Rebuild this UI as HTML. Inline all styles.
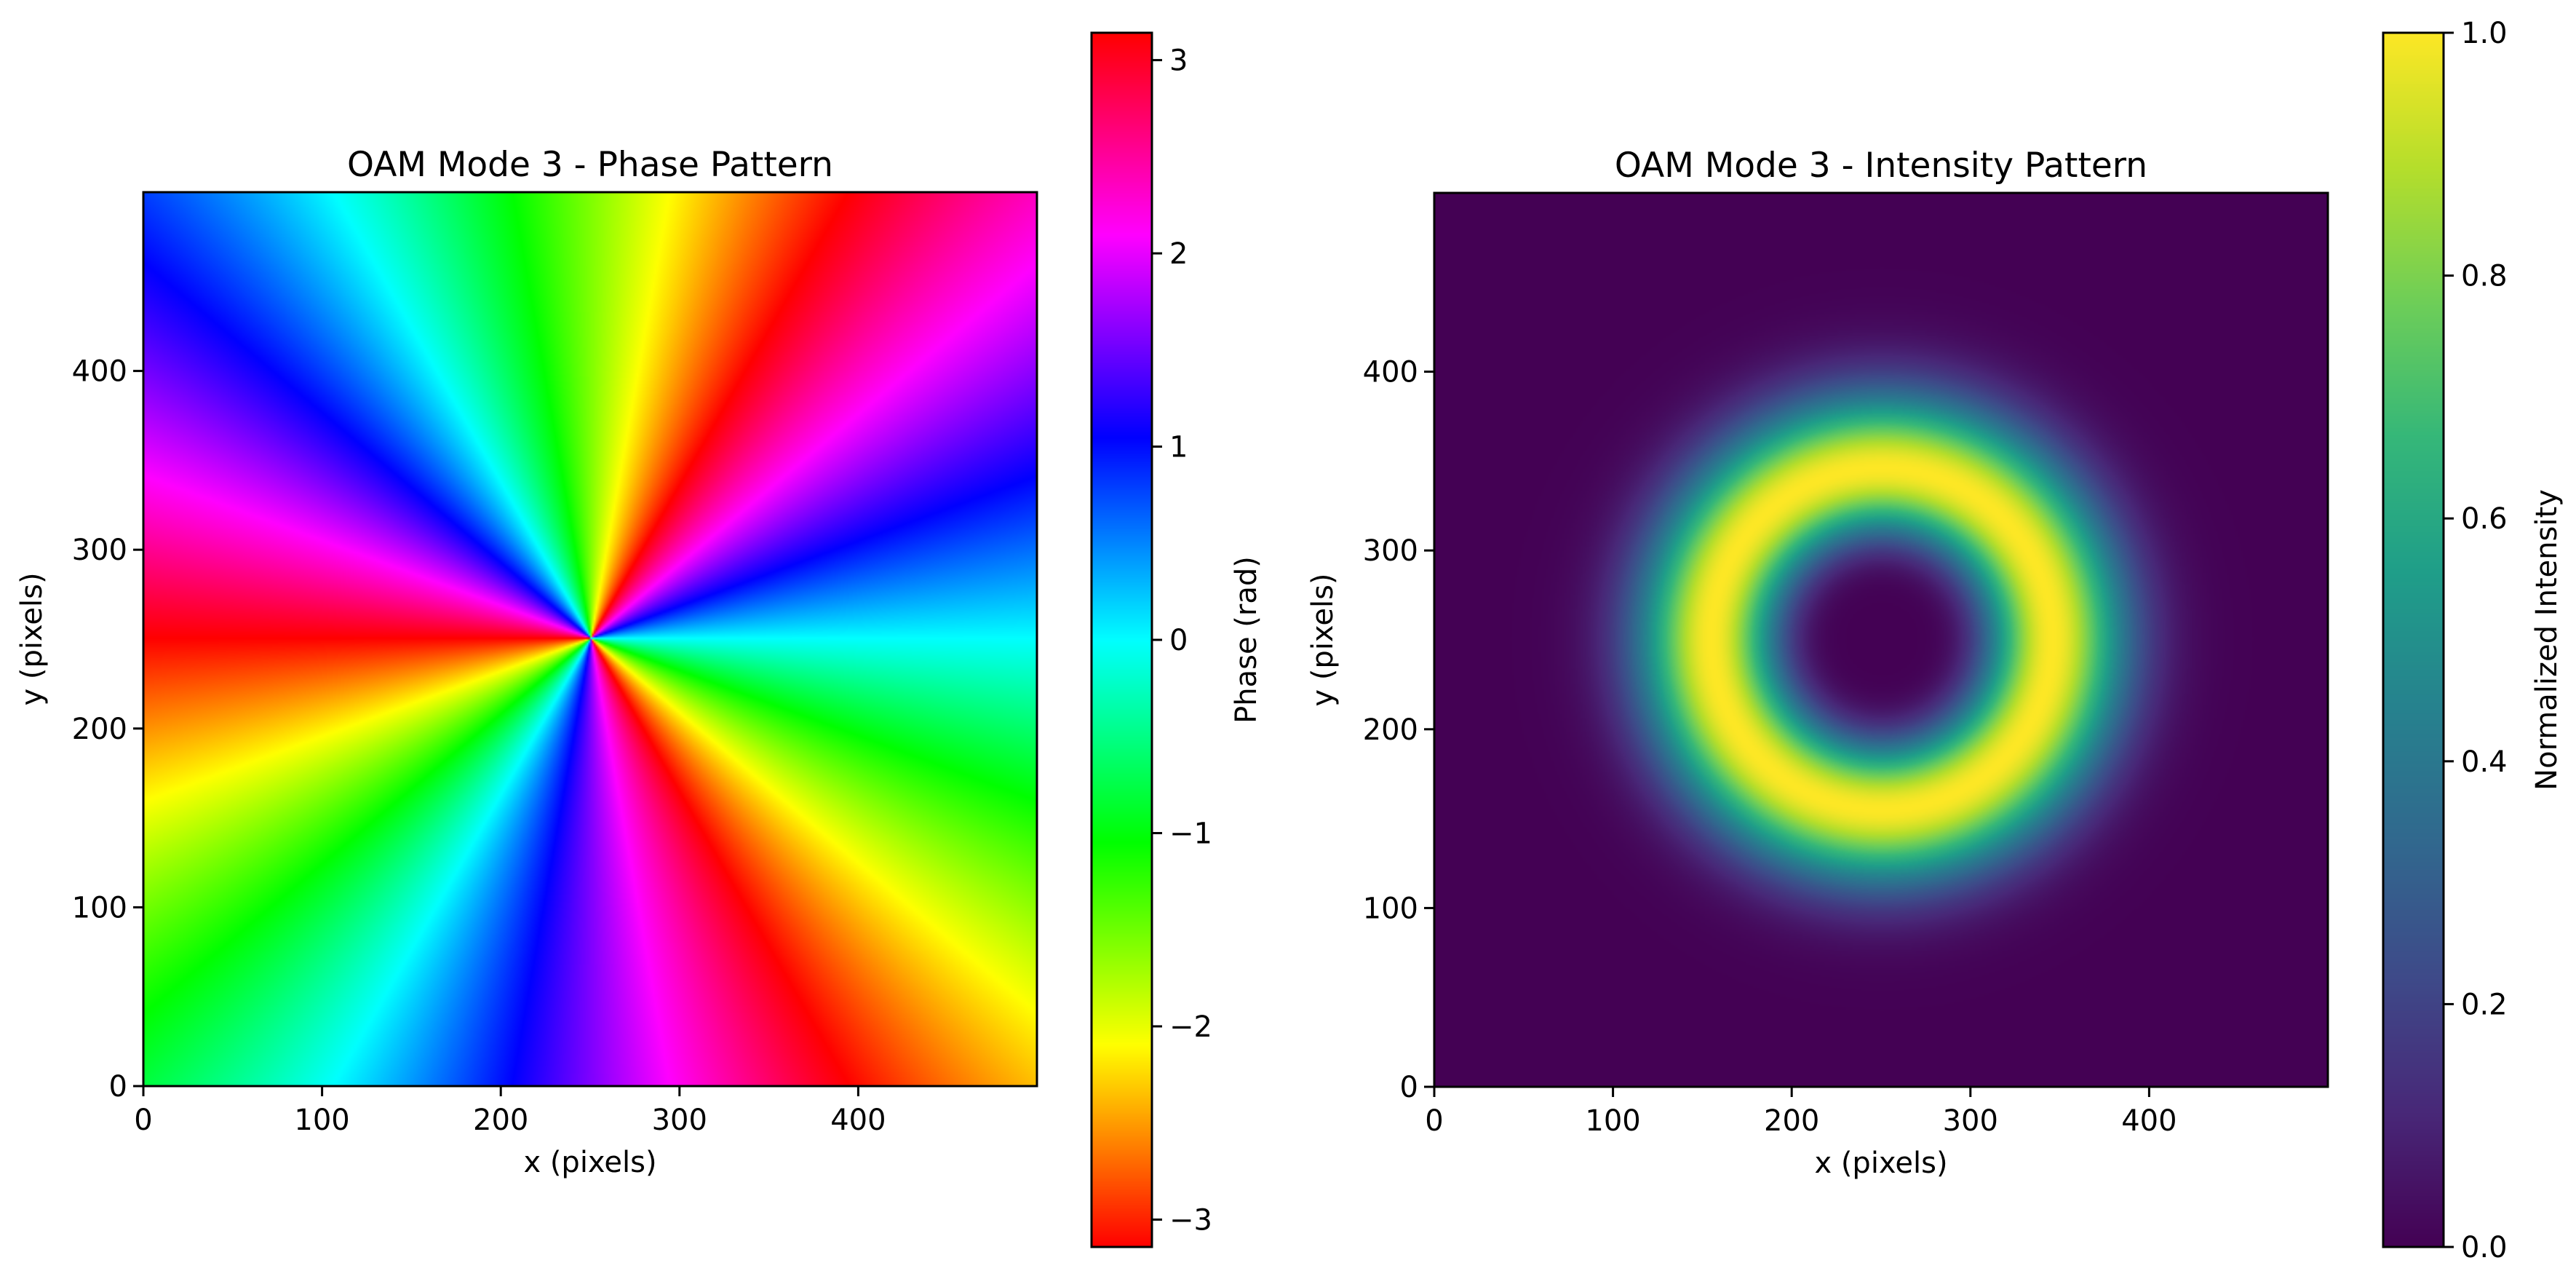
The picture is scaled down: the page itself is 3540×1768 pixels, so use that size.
<!DOCTYPE html>
<html><head><meta charset="utf-8"><style>
html,body{margin:0;padding:0;background:#fff;}
#wrap{position:relative;width:3540px;height:1768px;overflow:hidden;font-family:"DejaVu Sans","Liberation Sans",sans-serif;}
canvas{position:absolute;}
svg{position:absolute;left:0;top:0;font-family:"DejaVu Sans","Liberation Sans",sans-serif;}
</style></head><body>
<div id="wrap">
<canvas id="phaseImg" width="500" height="500" style="left:197px;top:264px;width:1228px;height:1228px"></canvas>
<canvas id="phaseCb" width="1" height="600" style="left:1500px;top:45px;width:83px;height:1668px"></canvas>
<canvas id="intImg" width="500" height="500" style="left:1971px;top:265px;width:1228px;height:1228px"></canvas>
<canvas id="intCb" width="1" height="600" style="left:3275px;top:45px;width:83px;height:1668px"></canvas>
<svg id="ov" width="3540" height="1768"></svg>
</div>
<script>
// data / parameters
const modeL = 3;
const gridSize = 500;
const beamWaist = 78;
const axisTicks = [0,100,200,300,400];
const phaseTicks = [-3,-2,-1,0,1,2,3];
const phaseTickLabels = ["\u22123","\u22122","\u22121","0","1","2","3"];
const intTicks = [0,0.2,0.4,0.6,0.8,1.0];
const intTickLabels = ["0.0","0.2","0.4","0.6","0.8","1.0"];

function hsv(t){
  const h=((t%1)+1)%1*6; const i=Math.floor(h), f=h-i;
  const q=1-f;
  const c=[[1,f,0],[q,1,0],[0,1,f],[0,q,1],[f,0,1],[1,0,q]][i%6];
  return c.map(v=>Math.round(v*255));
}
const vir=[[68,1,84],[72,40,120],[62,74,137],[49,104,142],[38,130,142],[31,158,137],[53,183,121],[110,206,88],[181,222,43],[253,231,37]];
function viridis(t){t=Math.max(0,Math.min(1,t));const p=t*9,i=Math.min(8,Math.floor(p)),f=p-i;
  return vir[i].map((v,k)=>Math.round(v+(vir[i+1][k]-v)*f));}

function drawImages(){
  const c1=document.getElementById('phaseImg').getContext('2d');
  const c2=document.getElementById('intImg').getContext('2d');
  const d1=c1.createImageData(gridSize,gridSize), d2=c2.createImageData(gridSize,gridSize);
  const cx=gridSize/2, cy=gridSize/2;
  let maxI=0; const I=new Float32Array(gridSize*gridSize);
  for(let j=0;j<gridSize;j++)for(let i=0;i<gridSize;i++){
    const x=i-cx, y=j-cy; const r2=(x*x+y*y)/(beamWaist*beamWaist);
    const v=Math.pow(r2,modeL)*Math.exp(-2*r2); I[j*gridSize+i]=v; if(v>maxI)maxI=v;
  }
  for(let j=0;j<gridSize;j++)for(let i=0;i<gridSize;i++){
    const x=i-cx, y=j-cy;
    let ph=modeL*Math.atan2(y,x); ph=Math.atan2(Math.sin(ph),Math.cos(ph));
    const row=gridSize-1-j; const o=(row*gridSize+i)*4;
    const a=hsv((ph+Math.PI)/(2*Math.PI));
    d1.data[o]=a[0];d1.data[o+1]=a[1];d1.data[o+2]=a[2];d1.data[o+3]=255;
    const b=viridis(I[j*gridSize+i]/maxI);
    d2.data[o]=b[0];d2.data[o+1]=b[1];d2.data[o+2]=b[2];d2.data[o+3]=255;
  }
  c1.putImageData(d1,0,0); c2.putImageData(d2,0,0);
  const cb1=document.getElementById('phaseCb').getContext('2d');
  const cb2=document.getElementById('intCb').getContext('2d');
  for(let k=0;k<600;k++){const t=1-(k+0.5)/600;
    let a=hsv(t); cb1.fillStyle=`rgb(${a})`; cb1.fillRect(0,k,1,1);
    a=viridis(t); cb2.fillStyle=`rgb(${a})`; cb2.fillRect(0,k,1,1);}
}
drawImages();

const NS='http://www.w3.org/2000/svg';
const ov=document.getElementById('ov');
function el(tag,attrs,text){const e=document.createElementNS(NS,tag);for(const k in attrs)e.setAttribute(k,attrs[k]);if(text!==undefined)e.textContent=text;ov.appendChild(e);return e;}

function panel(L,T,S,title,prefix){
  const sx=v=>L+v/gridSize*S, sy=v=>T+S-v/gridSize*S;
  const fr=el('rect',{x:L,y:T,width:S,height:S,fill:'none',stroke:'#000','stroke-width':3});
  
  
  axisTicks.forEach(v=>{
    el('line',{x1:sx(v),x2:sx(v),y1:T+S,y2:T+S+14,stroke:'#000','stroke-width':3});
    const t=el('text',{x:sx(v),y:T+S+60,'font-size':40,'text-anchor':'middle'},String(v));
    
    
    el('line',{x1:L-14,x2:L,y1:sy(v),y2:sy(v),stroke:'#000','stroke-width':3});
    const u=el('text',{x:L-22,y:sy(v)+14,'font-size':40,'text-anchor':'end'},String(v));
    
    
  });
  const tt=el('text',{x:L+S/2,y:T-22,'font-size':47,'text-anchor':'middle'},title);
  
  
  const xl=el('text',{x:L+S/2,y:T+S+118,'font-size':40,'text-anchor':'middle'},'x (pixels)');
  
  
  const yx=L-140, yc=T+S/2;
  const yl=el('text',{x:yx,y:yc,'font-size':40,'text-anchor':'middle',transform:`rotate(-90 ${yx} ${yc})`},'y (pixels)');
  
  
}
function colorbar(L,T,W,H,vmin,vmax,ticks,labels,label,prefix){
  const sy=v=>T+H-(v-vmin)/(vmax-vmin)*H;
  const fr=el('rect',{x:L,y:T,width:W,height:H,fill:'none',stroke:'#000','stroke-width':3});
  
  
  ticks.forEach((v,i)=>{
    el('line',{x1:L+W,x2:L+W+14,y1:sy(v),y2:sy(v),stroke:'#000','stroke-width':3});
    const t=el('text',{x:L+W+24,y:sy(v)+14,'font-size':40},labels[i]);
    
    
  });
  const lx=L+W+(prefix==='phase'?143:155), lc=T+H/2;
  const lb=el('text',{x:lx,y:lc,'font-size':40,'text-anchor':'middle',transform:`rotate(-90 ${lx} ${lc})`},label);
  
  
}
panel(197,264,1228,'OAM Mode 3 - Phase Pattern','phase');
panel(1971,265,1228,'OAM Mode 3 - Intensity Pattern','intensity');
colorbar(1500,45,83,1668,-Math.PI,Math.PI,phaseTicks,phaseTickLabels,'Phase (rad)','phase');
colorbar(3275,45,83,1668,0,1,intTicks,intTickLabels,'Normalized Intensity','intensity');
</script>
</body></html>
